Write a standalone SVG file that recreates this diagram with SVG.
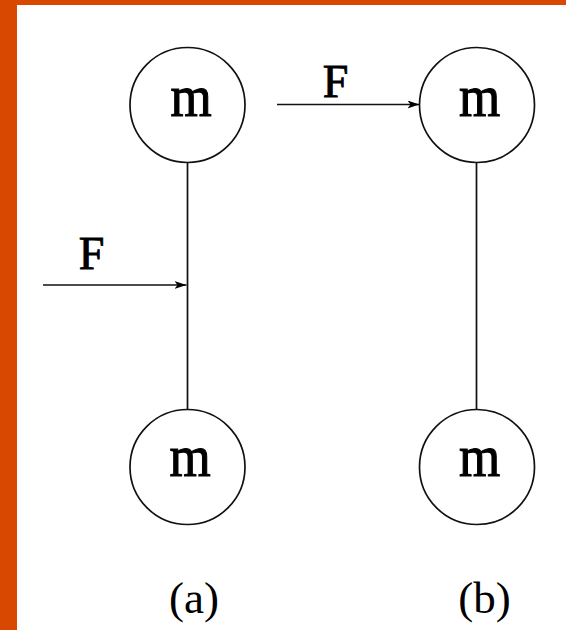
<svg xmlns="http://www.w3.org/2000/svg" width="566" height="630" viewBox="0 0 566 630">
  <style>
    .ball { fill: #ffffff; stroke: #111111; stroke-width: 1.7; }
    .rod { stroke: #111111; stroke-width: 1.7; fill: none; }
    .force { stroke: #111111; stroke-width: 1.7; fill: none; marker-end: url(#arrow); }
    .mass { font-family: "Liberation Serif", "Times New Roman", serif; font-size: 53px; fill: #000; stroke: #000; stroke-width: 1; text-anchor: middle; }
    .lbl { font-family: "Liberation Serif", "Times New Roman", serif; font-size: 46px; fill: #000; stroke: #000; stroke-width: 0.9; text-anchor: middle; }
    .cap { font-family: "Liberation Serif", "Times New Roman", serif; font-size: 45px; fill: #000; text-anchor: middle; }
  </style>
  <defs>
    <marker id="arrow" viewBox="0 0 12 8" refX="12" refY="4" markerWidth="12" markerHeight="8" markerUnits="userSpaceOnUse" orient="auto">
      <path d="M0,0 L12,4 L0,8 L3,4 Z" fill="#000"/>
    </marker>
  </defs>
  <rect x="0" y="0" width="566" height="630" fill="#ffffff"/>
  <rect x="0" y="0" width="566" height="5" fill="#D94800"/>
  <rect x="0" y="0" width="17" height="630" fill="#D94800"/>

  <g id="connectors">
    <line class="rod" x1="187.5" y1="162.5" x2="187.5" y2="409.5"/>
    <line class="rod" x1="476.5" y1="162.5" x2="476.5" y2="409.5"/>
    <line class="force" x1="43" y1="285" x2="186.5" y2="285"/>
    <line class="force" x1="277" y1="104.5" x2="419.5" y2="104.5"/>
  </g>

  <g id="ball-a-top">
    <circle class="ball" cx="187.5" cy="105" r="57.5"/>
    <text class="mass" x="191" y="116" transform="translate(191 116) scale(1 1.1) translate(-191 -116)">m</text>
  </g>
  <g id="ball-a-bottom">
    <circle class="ball" cx="187.5" cy="467" r="57.5"/>
    <text class="mass" x="190" y="476" transform="translate(190 476) scale(1 1.1) translate(-190 -476)">m</text>
  </g>
  <g id="ball-b-top">
    <circle class="ball" cx="477" cy="105" r="57.5"/>
    <text class="mass" x="479.5" y="116" transform="translate(479.5 116) scale(1 1.1) translate(-479.5 -116)">m</text>
  </g>
  <g id="ball-b-bottom">
    <circle class="ball" cx="477" cy="467" r="57.5"/>
    <text class="mass" x="479.5" y="476" transform="translate(479.5 476) scale(1 1.1) translate(-479.5 -476)">m</text>
  </g>

  <g id="force-a-label">
    <text class="lbl" x="91.5" y="269">F</text>
  </g>
  <g id="force-b-label">
    <text class="lbl" x="335.5" y="97">F</text>
  </g>
  <g id="caption-a">
    <text class="cap" x="194" y="613">(a)</text>
  </g>
  <g id="caption-b">
    <text class="cap" x="484.5" y="613">(b)</text>
  </g>
</svg>
